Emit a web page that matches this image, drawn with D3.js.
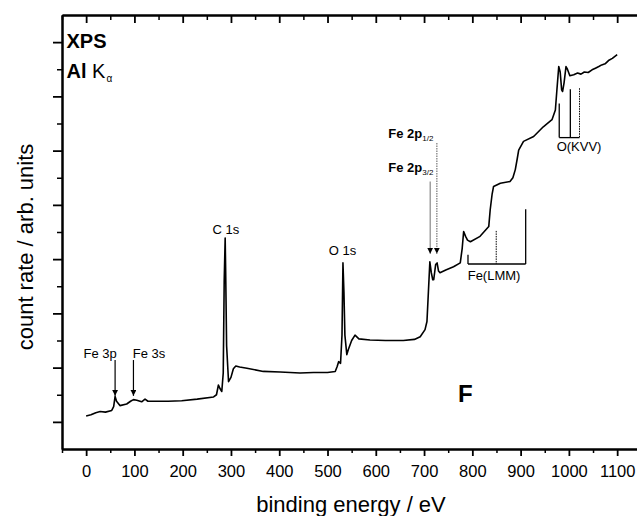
<!DOCTYPE html>
<html>
<head>
<meta charset="utf-8">
<script src="https://cdn.jsdelivr.net/npm/d3@7"></script>
<style>
  body { margin: 0; background: #fff; }
  svg { font-family: "Liberation Sans", Arial, sans-serif; }
</style>
</head>
<body>
<div id="chart"></div>
<script>
// spectrum: [binding energy eV, count rate arb.]
const spectrum = [
  [0, 0.11], [10, 0.13], [20, 0.17], [29, 0.19], [40, 0.18], [53, 0.21], [57, 0.28], [60, 0.47],
  [63, 0.38], [70, 0.30], [84, 0.33], [92, 0.38], [98, 0.41], [105, 0.40], [115, 0.37], [122, 0.42],
  [128, 0.38], [140, 0.38], [170, 0.38], [198, 0.39], [230, 0.42], [264, 0.46], [270, 0.50], [274, 0.68],
  [277, 0.62], [281, 0.56], [284, 0.90], [286, 2.6], [288, 3.39], [289, 2.8], [291, 1.4], [295, 0.74],
  [300, 0.82], [305, 0.98], [310, 1.03], [318, 1.01], [333, 0.99], [367, 0.93], [402, 0.92], [443, 0.90],
  [471, 0.91], [500, 0.91], [516, 0.93], [520, 1.02], [523, 1.11], [527, 1.08], [530, 1.6], [532, 2.93],
  [534, 2.4], [536, 1.6], [540, 1.24], [543, 1.33], [550, 1.50], [557, 1.60], [565, 1.53], [588, 1.51],
  [620, 1.50], [657, 1.50], [680, 1.52], [692, 1.57], [702, 1.70], [706, 1.85], [709, 2.4], [712, 2.95],
  [715, 2.75], [718, 2.62], [720, 2.62], [724, 2.90], [727, 2.93], [730, 2.78], [733, 2.75], [745, 2.80],
  [761, 2.86], [775, 2.93], [779, 3.2], [782, 3.51], [786, 3.42], [790, 3.35], [796, 3.32], [816, 3.42],
  [834, 3.60], [837, 3.91], [841, 4.2], [844, 4.34], [858, 4.40], [878, 4.43], [884, 4.50], [889, 4.65],
  [893, 4.85], [896, 5.01], [906, 5.17], [927, 5.26], [947, 5.44], [965, 5.57], [972, 5.75], [975, 6.1],
  [979, 6.55], [982, 6.45], [985, 6.12], [987, 6.09], [990, 6.25], [994, 6.55], [997, 6.50], [1002, 6.38],
  [1010, 6.40], [1018, 6.43], [1025, 6.41], [1032, 6.45], [1040, 6.44], [1048, 6.49], [1055, 6.52],
  [1062, 6.55], [1068, 6.58], [1075, 6.60], [1082, 6.66], [1090, 6.70], [1100, 6.77]
];

const xMajor = d3.range(0, 1101, 100);
const xMinor = d3.range(-50, 1151, 100);
const yMajor = d3.range(0, 8);
const yMinor = d3.range(0.5, 7, 1);

// peak labels [text, energy, y, anchor]
const peakLabels = [
  ["C 1s", 289.5, 3.47, "middle"],
  ["O 1s", 531, 3.07, "middle"],
  ["Fe 3p", -5.5, 1.18, "start"],
  ["Fe 3s", 96.5, 1.18, "start"],
  ["Fe(LMM)", 845, 2.62, "middle"],
  ["O(KVV)", 1021, 5.0, "middle"]
];
// arrows [energy, yFrom, yTo, colour, dashed]
const arrows = [
  [60, 1.14, 0.48, "#000", false],
  [98, 1.14, 0.48, "#000", false],
  [712.7, 4.43, 3.10, "#888", false],
  [726.5, 5.14, 3.10, "#777", true]
];
// Auger markers [energy, yTop, yBottom, dashed]
const lmmLines = [[791, 3.08, 2.91, false], [849.5, 3.52, 2.91, true], [910.5, 3.92, 2.91, false]];
const kvvLines = [[980, 5.87, 5.24, false], [1003, 6.13, 5.24, false], [1022, 6.15, 5.24, true]];

const svg = d3.select("#chart").append("svg")
  .attr("width", 637).attr("height", 516);

const x = d3.scaleLinear().domain([-50, 1150]).range([62, 641.3]);
const y = d3.scaleLinear().domain([-0.5, 7.5]).range([449, 15]);

svg.append("defs").append("marker")
  .attr("id", "head").attr("viewBox", "0 0 6 6")
  .attr("refX", 6).attr("refY", 3)
  .attr("markerWidth", 6).attr("markerHeight", 6)
  .attr("markerUnits", "userSpaceOnUse")
  .attr("orient", "auto")
  .append("path").attr("d", "M0,0L6,3L0,6Z").attr("fill", "#000");

function styleAxis(g, w) {
  g.select(".domain").attr("stroke-width", 2);
  g.selectAll(".tick line").attr("stroke-width", w);
}

// bottom axis
svg.append("g").attr("transform", "translate(0,449)")
  .call(d3.axisBottom(x).tickValues(xMinor).tickSize(4).tickFormat("").tickSizeOuter(0))
  .call(g => styleAxis(g, 1.5));
svg.append("g").attr("transform", "translate(0,449)")
  .call(d3.axisBottom(x).tickValues(xMajor).tickSize(7).tickPadding(9.5).tickFormat(d3.format("d")).tickSizeOuter(0))
  .call(g => styleAxis(g, 1.8))
  .call(g => g.selectAll("text").attr("font-size", 16.5).attr("fill", "#000"));

// top axis, ticks inside
svg.append("g").attr("transform", "translate(0,15)")
  .call(d3.axisBottom(x).tickValues(xMinor).tickSize(5).tickFormat("").tickSizeOuter(0))
  .call(g => styleAxis(g, 1.5));
svg.append("g").attr("transform", "translate(0,15)")
  .call(d3.axisBottom(x).tickValues(xMajor).tickSize(8).tickFormat("").tickSizeOuter(0))
  .call(g => styleAxis(g, 1.8));

// left axis
svg.append("g").attr("transform", "translate(62,0)")
  .call(d3.axisLeft(y).tickValues(yMinor).tickSize(5).tickFormat("").tickSizeOuter(0))
  .call(g => styleAxis(g, 1.5));
svg.append("g").attr("transform", "translate(62,0)")
  .call(d3.axisLeft(y).tickValues(yMajor).tickSize(9).tickFormat("").tickSizeOuter(0))
  .call(g => styleAxis(g, 1.8));

// axis titles
svg.append("text")
  .attr("x", 351).attr("y", 511.5)
  .attr("text-anchor", "middle").attr("font-size", 22)
  .text("binding energy / eV");
svg.append("text")
  .attr("transform", "translate(33,247) rotate(-90)")
  .attr("text-anchor", "middle").attr("font-size", 22)
  .text("count rate / arb. units");

// spectrum
const line = d3.line().x(d => x(d[0])).y(d => y(d[1]));
svg.append("path")
  .datum(spectrum)
  .attr("fill", "none").attr("stroke", "#000")
  .attr("stroke-width", 1.6).attr("stroke-linejoin", "round")
  .attr("d", line);

// peak labels
svg.selectAll(".plabel")
  .data(peakLabels)
  .join("text")
  .attr("class", "plabel")
  .attr("x", d => x(d[1])).attr("y", d => y(d[2]))
  .attr("text-anchor", d => d[3])
  .attr("font-size", 13)
  .text(d => d[0]);

// Fe 2p labels with subscripts
[["1/2", 626, 5.24], ["3/2", 626, 4.61]].forEach(([sub, e, v]) => {
  const t = svg.append("text")
    .attr("x", x(e)).attr("y", y(v))
    .attr("font-size", 13).attr("font-weight", "bold");
  t.append("tspan").text("Fe 2p");
  t.append("tspan").attr("font-size", 8).attr("font-weight", "normal").attr("dy", 3).text(sub);
});

// arrows
svg.selectAll(".arrow")
  .data(arrows)
  .join("line")
  .attr("class", "arrow")
  .attr("x1", d => x(d[0])).attr("x2", d => x(d[0]))
  .attr("y1", d => y(d[1])).attr("y2", d => y(d[2]))
  .attr("stroke", d => d[3]).attr("stroke-width", 1.2)
  .attr("stroke-dasharray", d => d[4] ? "1.5,1" : null)
  .attr("marker-end", "url(#head)");

// Auger brackets
function bracket(lines) {
  const g = svg.append("g").attr("stroke", "#000").attr("stroke-width", 1.3);
  g.append("line")
    .attr("x1", x(lines[0][0])).attr("x2", x(lines[lines.length - 1][0]))
    .attr("y1", y(lines[0][2])).attr("y2", y(lines[0][2]));
  g.selectAll("line.v")
    .data(lines)
    .join("line")
    .attr("class", "v")
    .attr("x1", d => x(d[0])).attr("x2", d => x(d[0]))
    .attr("y1", d => y(d[1])).attr("y2", d => y(d[2]))
    .attr("stroke-width", d => d[3] ? 1 : 1.3)
    .attr("stroke-dasharray", d => d[3] ? "1.5,1" : null);
}
bracket(lmmLines);
bracket(kvvLines);

// corner text
svg.append("text").attr("x", 66.5).attr("y", 48)
  .attr("font-size", 20).attr("font-weight", "bold").text("XPS");
const ak = svg.append("text").attr("x", 66.5).attr("y", 78.3).attr("font-size", 20);
ak.append("tspan").attr("font-weight", "bold").text("Al");
ak.append("tspan").text(" K");
ak.append("tspan").attr("font-size", 10).attr("dy", 4).attr("dx", 1).text("α");

svg.append("text").attr("x", 458).attr("y", 401.5)
  .attr("font-size", 24).attr("font-weight", "bold").text("F");
</script>
</body>
</html>
